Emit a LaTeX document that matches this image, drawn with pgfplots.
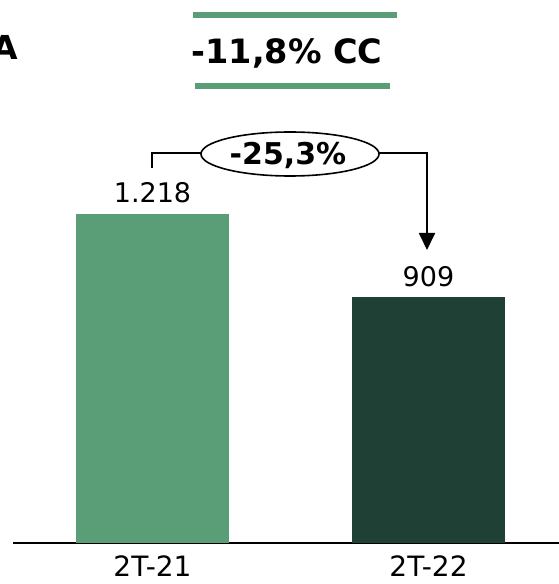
\documentclass[border=0pt]{standalone}
\usepackage{fontspec}
\setmainfont{DejaVu Sans}
\usepackage{pgfplots}
\pgfplotsset{compat=1.18}
\usetikzlibrary{arrows.meta}
\definecolor{lightgreen}{HTML}{5A9E78}
\definecolor{darkgreen}{HTML}{1E4035}
\begin{document}
\begin{tikzpicture}[x=1pt,y=1pt]
\path[use as bounding box] (0,0) rectangle (559,584);
\clip (0,0) rectangle (559,584);
\begin{axis}[
  at={(13pt,41pt)}, anchor=south west,
  scale only axis, width=546pt, height=543pt,
  xmin=-0.5054, xmax=1.4728, ymin=0, ymax=2010,
  axis y line=none, axis x line*=bottom,
  x axis line style={-, line width=1.6pt},
  xtick={0,1}, xticklabels={2T-21,2T-22},
  major tick length=0pt,
  xticklabel style={anchor=base, yshift=-34pt, inner sep=0pt, font=\fontsize{28}{32}\selectfont},
  ybar, bar width=153pt,
  nodes near coords,
  /pgf/number format/1000 sep={.},
  /pgf/number format/assume math mode=true,
  every node near coord/.append style={anchor=base, yshift=11pt, inner sep=0pt, font=\fontsize{27}{31}\selectfont, text=black},
  clip=false,
]
\addplot[fill=lightgreen, draw=none, bar shift=0pt] coordinates {(0,1218)};
\addplot[fill=darkgreen, draw=none, bar shift=0pt] coordinates {(1,909)};
\end{axis}
% top headline
\fill[lightgreen] (193,566) rectangle (397,572);
\fill[lightgreen] (195,495) rectangle (390,501);
\node[anchor=base, inner sep=0pt, font=\fontsize{33.5}{38}\selectfont\bfseries] at (287,520) {-11,8\% CC};
\node[anchor=base east, inner sep=0pt, font=\fontsize{33}{38}\selectfont\bfseries] at (18,524) {A};
% change annotation
\draw[line width=1.8pt] (152,416) -- (152,431) -- (201,431);
\draw[line width=1.8pt, -{Triangle[width=16pt,length=17pt]}] (379,431) -- (427,431) -- (427,334);
\draw[line width=1.6pt, fill=white] (290,430) ellipse [x radius=89, y radius=22];
\node[anchor=base, inner sep=0pt, font=\fontsize{30}{34}\selectfont\bfseries] at (288,419) {-25,3\%};
\end{tikzpicture}
\end{document}
